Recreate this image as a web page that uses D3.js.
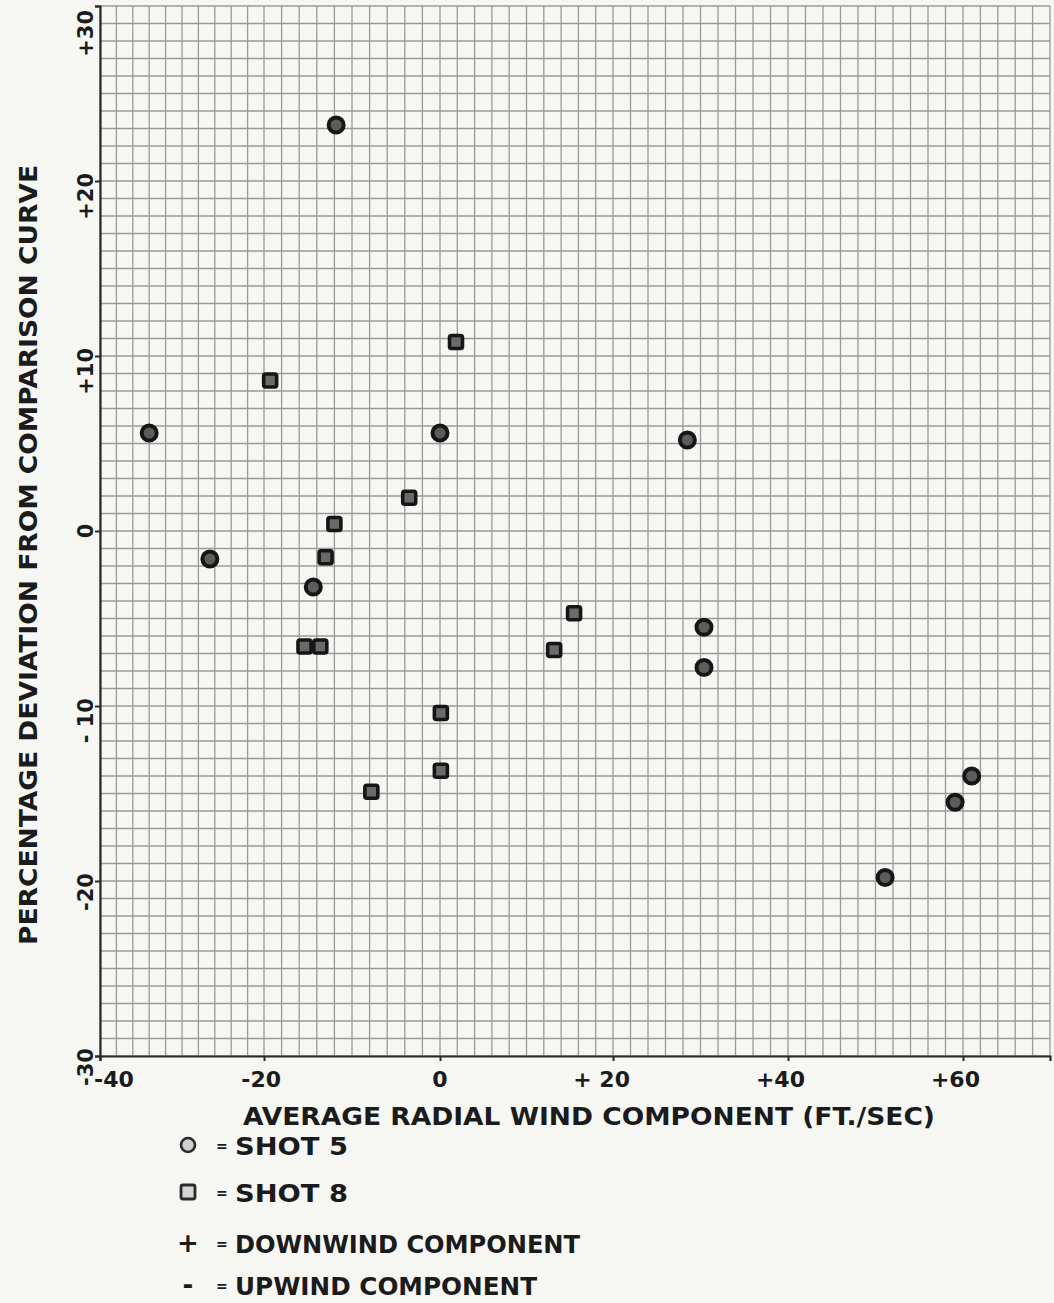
<!DOCTYPE html>
<html>
<head>
<meta charset="utf-8">
<script src="https://cdn.jsdelivr.net/npm/d3@7"></script>
<style>
  body { margin: 0; background: #f6f6f3; }
  svg { display: block; }
  text { font-family: "DejaVu Sans", sans-serif; font-weight: bold; fill: #1b1b1b; }
</style>
</head>
<body>
<div id="chart"></div>
<script>
// data
var shot5X = [-11.8, -34.0, 0, 28.5, -26.6, -14.4, 30.4, 30.4, 61, 59.1, 51.1];
var shot5Y = [23.2, 5.6, 5.6, 5.2, -1.6, -3.2, -5.5, -7.8, -14.0, -15.5, -19.8];
var shot8X = [1.85, -19.3, -3.5, -12.0, -13.0, -15.4, -13.6, 0.1, 0.1, -7.8, 15.5, 13.2];
var shot8Y = [10.8, 8.6, 1.9, 0.4, -1.5, -6.6, -6.6, -10.4, -13.7, -14.9, -4.7, -6.8];

var xTicks = [-40, -20, 0, 20, 40, 60];
var xTickLabels = ["-40", "-20", "0", "+ 20", "+40", "+60"];
var yTicks = [30, 20, 10, 0, -10, -20, -30];
var yTickLabels = ["+30", "+20", "+10", "0", "- 10", "-20", "-30"];

var xTitle = "AVERAGE RADIAL WIND COMPONENT (FT./SEC)";
var yTitle = "PERCENTAGE DEVIATION FROM COMPARISON CURVE";
var legendLabels = ["SHOT 5", "SHOT 8", "DOWNWIND  COMPONENT", "UPWIND  COMPONENT"];
var legendSymbols = ["circle", "square", "+", "-"];

// settings
var W = 1054, H = 1303;
var margin = {top: 6, left: 100, bottom: 247};

var svg = d3.select("#chart")
    .append("svg")
    .attr("width", W)
    .attr("height", H);

svg.append("rect").attr("width", W).attr("height", H).attr("fill", "#f6f6f3");

// the paper is slightly stretched in the scan, so the x scale is piecewise
var x = d3.scaleLinear()
    .domain([-40, -20, 0, 20, 40, 60, 70])
    .range([100, 264, 440, 613, 788, 963, 1050]);

var y = d3.scaleLinear()
    .domain([-30, 30])
    .range([H - margin.bottom, margin.top]);

// grid paper
var grid = svg.append("g").attr("stroke", "#9a9a9a").attr("stroke-width", 1.3);
grid.selectAll(".vx")
    .data(d3.range(-40, 71, 2))
    .enter().append("line")
    .attr("x1", function(d) { return x(d); })
    .attr("x2", function(d) { return x(d); })
    .attr("y1", y(30)).attr("y2", y(-30));
grid.selectAll(".hy")
    .data(d3.range(-30, 31, 1))
    .enter().append("line")
    .attr("y1", function(d) { return y(d); })
    .attr("y2", function(d) { return y(d); })
    .attr("x1", x(-40)).attr("x2", x(70));

// axes lines with small outward ticks
var xAxis = svg.append("g")
    .attr("transform", "translate(0," + y(-30) + ")")
    .call(d3.axisBottom(x).tickValues(xTicks).tickSize(5).tickFormat(""));
var yAxis = svg.append("g")
    .attr("transform", "translate(" + x(-40) + ",0)")
    .call(d3.axisLeft(y).tickValues(yTicks).tickSize(5).tickFormat(""));
[xAxis, yAxis].forEach(function(a) {
    a.select(".domain").attr("stroke", "#2a2a2a").attr("stroke-width", 2.2);
    a.selectAll(".tick line").attr("stroke", "#2a2a2a").attr("stroke-width", 2);
});

// x tick labels: digits centred on the tick, sign to the left
svg.append("g").selectAll("text")
    .data(xTicks)
    .enter().append("text")
    .attr("x", function(d, i) { return d === 0 ? x(d) : (d === -40 ? x(d) - 6 : x(d) + 17); })
    .attr("y", y(-30) + 31)
    .attr("text-anchor", function(d) { return d === 0 ? "middle" : (d === -40 ? "start" : "end"); })
    .attr("font-size", 22)
    .text(function(d, i) { return xTickLabels[i]; });

// y tick labels, rotated
svg.append("g").selectAll("text")
    .data(yTicks)
    .enter().append("text")
    .attr("transform", function(d) {
        var p = d === 0 ? y(d) : y(d) - 8;
        if (d === 30) p = 10;
        return "translate(" + (x(-40) - 7) + "," + p + ") rotate(-90)";
    })
    .attr("text-anchor", function(d) { return d === 0 ? "middle" : "end"; })
    .attr("font-size", 21)
    .text(function(d, i) { return yTickLabels[i]; });

// axis titles
svg.append("text")
    .attr("x", 243).attr("y", 1125)
    .attr("font-size", 25)
    .attr("textLength", 692).attr("lengthAdjust", "spacingAndGlyphs")
    .text(xTitle);

svg.append("g")
    .attr("transform", "translate(37,945) rotate(-90)")
    .append("text")
    .attr("font-size", 24)
    .attr("textLength", 780).attr("lengthAdjust", "spacingAndGlyphs")
    .text(yTitle);

// data marks
var marks = svg.append("g");
marks.selectAll("circle")
    .data(d3.zip(shot5X, shot5Y))
    .enter().append("circle")
    .attr("cx", function(d) { return x(d[0]); })
    .attr("cy", function(d) { return y(d[1]); })
    .attr("r", 7.5)
    .attr("fill", "#5c5c5c")
    .attr("stroke", "#161616")
    .attr("stroke-width", 4);

marks.selectAll("rect")
    .data(d3.zip(shot8X, shot8Y))
    .enter().append("rect")
    .attr("x", function(d) { return x(d[0]) - 6.5; })
    .attr("y", function(d) { return y(d[1]) - 6.5; })
    .attr("width", 13).attr("height", 13)
    .attr("rx", 2)
    .attr("fill", "#6a6a6a")
    .attr("stroke", "#161616")
    .attr("stroke-width", 3.6);

// legend
var legend = svg.append("g").attr("transform", "translate(188,1145)");
var rowY = [0, 47, 98, 140];
legendSymbols.forEach(function(s, i) {
    var g = legend.append("g").attr("transform", "translate(0," + rowY[i] + ")");
    if (s === "circle") {
        g.append("circle").attr("r", 7).attr("fill", "#cfcfcf")
            .attr("stroke", "#2a2a2a").attr("stroke-width", 2.6);
    } else if (s === "square") {
        g.append("rect").attr("x", -7).attr("y", -7).attr("width", 14).attr("height", 14)
            .attr("rx", 2).attr("fill", "#d4d4d4").attr("stroke", "#2a2a2a").attr("stroke-width", 2.8);
    } else {
        g.append("text").attr("text-anchor", "middle").attr("y", 9)
            .attr("font-size", 26).text(s);
    }
    g.append("text").attr("x", 28).attr("y", 6).attr("font-size", 14).text("=");
    g.append("text").attr("x", 47).attr("y", 10)
        .attr("font-size", 24)
        .attr("textLength", [113, 113, 345, 302][i]).attr("lengthAdjust", "spacingAndGlyphs")
        .text(legendLabels[i]);
});
</script>
</body>
</html>
